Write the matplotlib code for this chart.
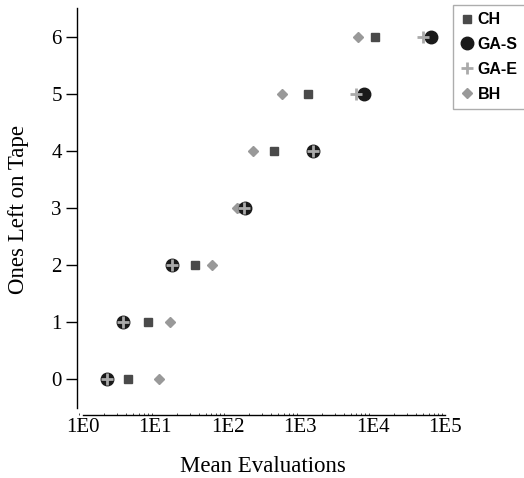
import matplotlib
matplotlib.use("Agg")
import matplotlib.pyplot as plt
import numpy as np

ones_left = [0, 1, 2, 3, 4, 5, 6]
ch_evals = [4.2, 8.1, 36, 160, 437, 1290, 10960]
gas_evals = [2.2, 3.66, 17, 174, 1527, 7640, 63500]
gae_evals = [2.2, 3.66, 17, 170, 1527, 5920, 49000]
bh_evals = [11.5, 16.3, 62, 137, 222, 570, 6380]
x_ticks = [1, 10, 100, 1000, 10000, 100000]
x_ticklabels = ["1E0", "1E1", "1E2", "1E3", "1E4", "1E5"]
y_ticks = [0, 1, 2, 3, 4, 5, 6]

W, H = 524, 478
fig = plt.figure(figsize=(W / 100, H / 100), dpi=100)
ax = fig.add_axes([77 / W, 1 - 408 / H, (445 - 77) / W, 400 / H])

serif = "Liberation Serif"

ax.plot(ch_evals, ones_left, linestyle="none",
        marker="s", ms=6, color="#4a4a4a", label="CH", zorder=3)
ax.plot(gas_evals, ones_left, linestyle="none", marker="o", ms=9,
        color="#1a1a1a", label="GA-S", zorder=4)
ax.plot(gae_evals, ones_left, linestyle="none", marker="+", ms=9, mew=2,
        color="#aaaaaa", label="GA-E", zorder=5)
ax.plot(bh_evals, ones_left, linestyle="none", marker="D", ms=5.5,
        color="#999999", label="BH", zorder=3)

ax.set_xscale("log")
ax.set_xlim(10 ** (-5.5 / 72.5), 1e5)
ax.set_ylim(-0.5, 6.5)

for s in ["top", "right"]:
    ax.spines[s].set_visible(False)
ax.spines["bottom"].set_position(("outward", 7 * 72 / 100))
ax.spines["bottom"].set_bounds(1, 1e5)
ax.spines["bottom"].set_linewidth(1.0)
ax.spines["left"].set_linewidth(1.0)

ax.set_xticks(x_ticks)
ax.set_xticklabels(x_ticklabels, fontfamily=serif, fontsize=15)
ax.tick_params(axis="x", which="major", length=0, pad=2)
ax.tick_params(axis="x", which="minor", direction="in", length=1.5, width=0.5)
ax.set_yticks(y_ticks)
ax.set_yticklabels([str(v) for v in y_ticks], fontfamily=serif, fontsize=15)
ax.tick_params(axis="y", length=8, width=1, pad=3)

fig.text(263 / W, 1 - 467 / H, "Mean Evaluations", fontfamily=serif, fontsize=16.5,
         ha="center", va="center")
fig.text(19 / W, 1 - 210 / H, "Ones Left on Tape", fontfamily=serif, fontsize=16.5,
         ha="center", va="center", rotation=90)

leg = fig.legend(loc="upper left", bbox_to_anchor=(453 / W, 1 - 5 / H),
                 bbox_transform=fig.transFigure, frameon=True, fancybox=False,
                 shadow=False, prop={"family": "Liberation Sans", "weight": "bold", "size": 11.5},
                 handlelength=0.8, handletextpad=0.3, labelspacing=0.62,
                 borderpad=0.45, borderaxespad=0)
leg.get_frame().set_edgecolor("#999999")
leg.get_frame().set_linewidth(1.0)

fig.savefig("out.png", dpi=100)
